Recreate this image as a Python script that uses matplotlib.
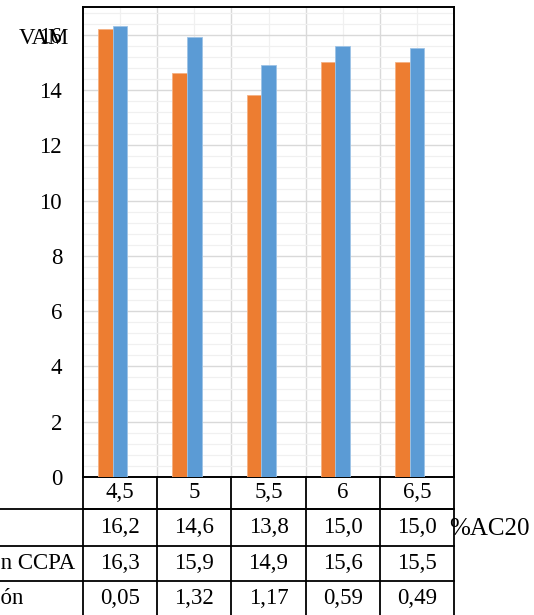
import numpy as np
import matplotlib
matplotlib.use("Agg")
from matplotlib import pyplot as plt
from matplotlib.lines import Line2D

plt.rcParams['font.family'] = ['Liberation Serif', 'DejaVu Serif']
plt.rcParams['font.size'] = 16.5

# datos: %AC20 vs VAM
asfalto = [4.5, 5, 5.5, 6, 6.5]
vam = [16.2, 14.6, 13.8, 15.0, 15.0]
vam_ccpa = [16.3, 15.9, 14.9, 15.6, 15.5]
variacion = [0.05, 1.32, 1.17, 0.59, 0.49]
nombres = ["VAM", "VAM con CCPA", "Variación"]

naranja = "#ED7D31"
azul = "#5B9BD5"

def coma(v, dec):
    return f"{v:.{dec}f}".replace('.', ',')

fig = plt.figure(figsize=(5.34, 6.15), dpi=100)
ax = fig.add_axes([83/534, 138/615, 371/534, 470/615])

x = np.arange(len(asfalto))
w = 0.196
ax.bar(x - w, vam, w, color=naranja, edgecolor="#F4B183", linewidth=0.6, zorder=3)
ax.bar(x, vam_ccpa, w, color=azul, edgecolor="#9DC3E6", linewidth=0.6, zorder=3)
# tercera serie sin relleno
ax.bar(x + w, variacion, w, facecolor='none', edgecolor='none', zorder=3)

ax.set_xlim(-0.5, len(asfalto) - 0.5)
ax.set_ylim(0, 17)
ax.set_yticks(np.arange(0, 17, 2))
ax.set_yticks(np.arange(0, 17, 0.4), minor=True)
ax.set_xticks(np.arange(0.5, len(asfalto) - 0.5))
ax.set_xticks(x, minor=True)
ax.set_xticklabels([])
ax.tick_params(axis='both', which='both', length=0)
ax.tick_params(axis='y', pad=15)
ax.grid(which='major', color='#d9d9d9', linewidth=1.0, zorder=0)
ax.grid(which='minor', color='#f0f0f0', linewidth=0.9, zorder=0)
ax.set_axisbelow(True)
for s in ax.spines.values():
    s.set_color('black')
    s.set_linewidth(1.4)

# titulo eje y, horizontal arriba a la izquierda
fig.text(19/534, 1 - 38/615, "VAM", ha='left', va='center')

# tabla de datos debajo del grafico
tr = ax.get_xaxis_transform()
filas = [0, -32/470, -69/470, -104/470, -140/470]
izq = -3
der = len(asfalto) - 0.5
lw = 1.3
# separadores horizontales
ax.add_line(Line2D([-0.5, der], [filas[1], filas[1]], transform=tr, color='black', lw=lw, clip_on=False))
for f in filas[1:4]:
    ax.add_line(Line2D([izq, der], [f, f], transform=tr, color='black', lw=lw, clip_on=False))
# separadores verticales
for b in np.arange(-0.5, len(asfalto)):
    ax.add_line(Line2D([b, b], [0, filas[4]], transform=tr, color='black', lw=lw, clip_on=False, zorder=5))

def centro(i):
    return (filas[i] + filas[i + 1]) / 2

for i, a in enumerate(asfalto):
    ax.text(i, centro(0), f"{a:g}".replace('.', ','), transform=tr, ha='center', va='center')
    ax.text(i, centro(1), coma(vam[i], 1), transform=tr, ha='center', va='center')
    ax.text(i, centro(2), coma(vam_ccpa[i], 1), transform=tr, ha='center', va='center')
    ax.text(i, centro(3), coma(variacion[i], 2), transform=tr, ha='center', va='center')

# nombres de las series en la columna izquierda (recortados por el borde)
ax.text(-1.9, centro(1), nombres[0], transform=tr, ha='right', va='center')
ax.text(-0.6, centro(2), nombres[1], transform=tr, ha='right', va='center')
ax.text(-1.3, centro(3), nombres[2], transform=tr, ha='right', va='center')

# titulo eje x
ax.text(4.43, centro(1) - 0.003, "%AC20", transform=tr, ha='left', va='center', fontsize=18)

fig.savefig("out.png", dpi=100)
